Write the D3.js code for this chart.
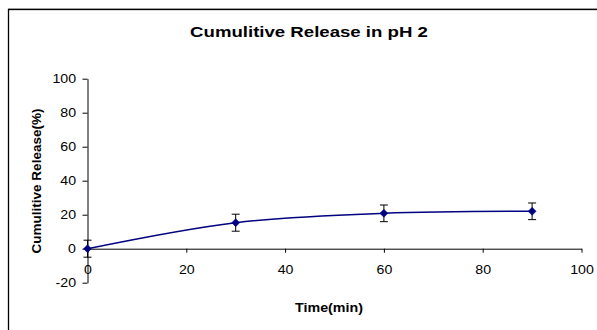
<!DOCTYPE html>
<html><head><meta charset="utf-8">
<script src="https://cdn.jsdelivr.net/npm/d3@7"></script>
<style>
html,body{margin:0;padding:0;background:#fff;}
svg{display:block;font-family:"Liberation Sans",Arial,sans-serif;}
</style></head>
<body>
<svg id="chart" width="597" height="330"></svg>
<script>
const times = [0, 30, 60, 90];
const release = [0, 15.3, 20.8, 22.0];
const errors = [5.0, 5.0, 4.9, 4.9];
const xTicks = [0, 20, 40, 60, 80, 100];
const yTicks = [-20, 0, 20, 40, 60, 80, 100];
const title = "Cumulitive Release in pH 2";
const xLabel = "Time(min)";
const yLabel = "Cumulitive Release(%)";

const svg = d3.select("#chart");
svg.append("rect").attr("x",0).attr("y",0).attr("width",597).attr("height",330).attr("fill","#fff");
// outer chart border
svg.append("line").attr("x1",8).attr("x2",597).attr("y1",8.5).attr("y2",8.5).attr("stroke","#bbb").attr("stroke-width",1);
svg.append("rect").attr("x",8.5).attr("y",9.5).attr("width",600).attr("height",330)
  .attr("fill","none").attr("stroke","#000").attr("stroke-width",1.3);

const x = d3.scaleLinear().domain([0,100]).range([87.5,581.5]);
const y = d3.scaleLinear().domain([-20,100]).range([282.7,78.7]);

function stretch(sel, k){
  sel.each(function(){
    const w = this.getComputedTextLength();
    d3.select(this).attr("textLength", w*k).attr("lengthAdjust","spacingAndGlyphs");
  });
}
const plainFmt = d => String(d);

// y axis
const yAx = svg.append("g").attr("transform",`translate(${x(0)},0)`)
  .call(d3.axisLeft(y).tickValues(yTicks).tickFormat(plainFmt).tickSize(5).tickPadding(6.5).tickSizeOuter(0));
// x axis at y=0
const xAx = svg.append("g").attr("transform",`translate(0,${y(0)})`)
  .call(d3.axisBottom(x).tickValues(xTicks).tickFormat(plainFmt).tickSize(4).tickPadding(12.5).tickSizeOuter(0));
[yAx,xAx].forEach(g=>{
  g.select(".domain").attr("stroke","#000").attr("stroke-width",1);
  g.selectAll(".tick line").attr("stroke","#000").attr("stroke-width",1);
  g.selectAll("text").attr("fill","#000").attr("font-size","12px")
   .attr("font-family","'Liberation Sans',Arial,sans-serif");
  stretch(g.selectAll("text"), 1.18);
});

const data = times.map((t,i)=>({t, v:release[i], e:errors[i]}));

// smooth line
svg.append("path").datum(data)
  .attr("d", d3.line().x(d=>x(d.t)).y(d=>y(d.v)).curve(d3.curveCatmullRom.alpha(0.5)))
  .attr("fill","none").attr("stroke","#000080").attr("stroke-width",1.5);

// error bars
const eb = svg.append("g").attr("stroke","#000").attr("stroke-width",1);
data.forEach(d=>{
  const cx = x(d.t);
  eb.append("line").attr("x1",cx).attr("x2",cx).attr("y1",y(d.v+d.e)).attr("y2",y(d.v-d.e));
  eb.append("line").attr("x1",cx-4).attr("x2",cx+4).attr("y1",y(d.v+d.e)).attr("y2",y(d.v+d.e));
  eb.append("line").attr("x1",cx-4).attr("x2",cx+4).attr("y1",y(d.v-d.e)).attr("y2",y(d.v-d.e));
});

// diamond markers
svg.append("g").selectAll("path").data(data).join("path")
  .attr("transform",d=>`translate(${x(d.t)},${y(d.v)})`)
  .attr("d","M0,-4L4,0L0,4L-4,0Z")
  .attr("fill","#000080").attr("stroke","#000080").attr("stroke-width",0.5);

// title
svg.append("text").attr("x",309).attr("y",37).attr("text-anchor","middle")
  .attr("font-size","15px").attr("font-weight","bold").attr("fill","#000").text(title)
  .call(stretch, 1.24);
// x label
svg.append("text").attr("x",329).attr("y",311.5).attr("text-anchor","middle")
  .attr("font-size","12.5px").attr("font-weight","bold").attr("fill","#000").text(xLabel)
  .call(stretch, 1.14);
// y label
svg.append("text").attr("transform","translate(40.5,181) rotate(-90)").attr("text-anchor","middle")
  .attr("font-size","13.5px").attr("font-weight","bold").attr("fill","#000").text(yLabel);
</script>
</body></html>
